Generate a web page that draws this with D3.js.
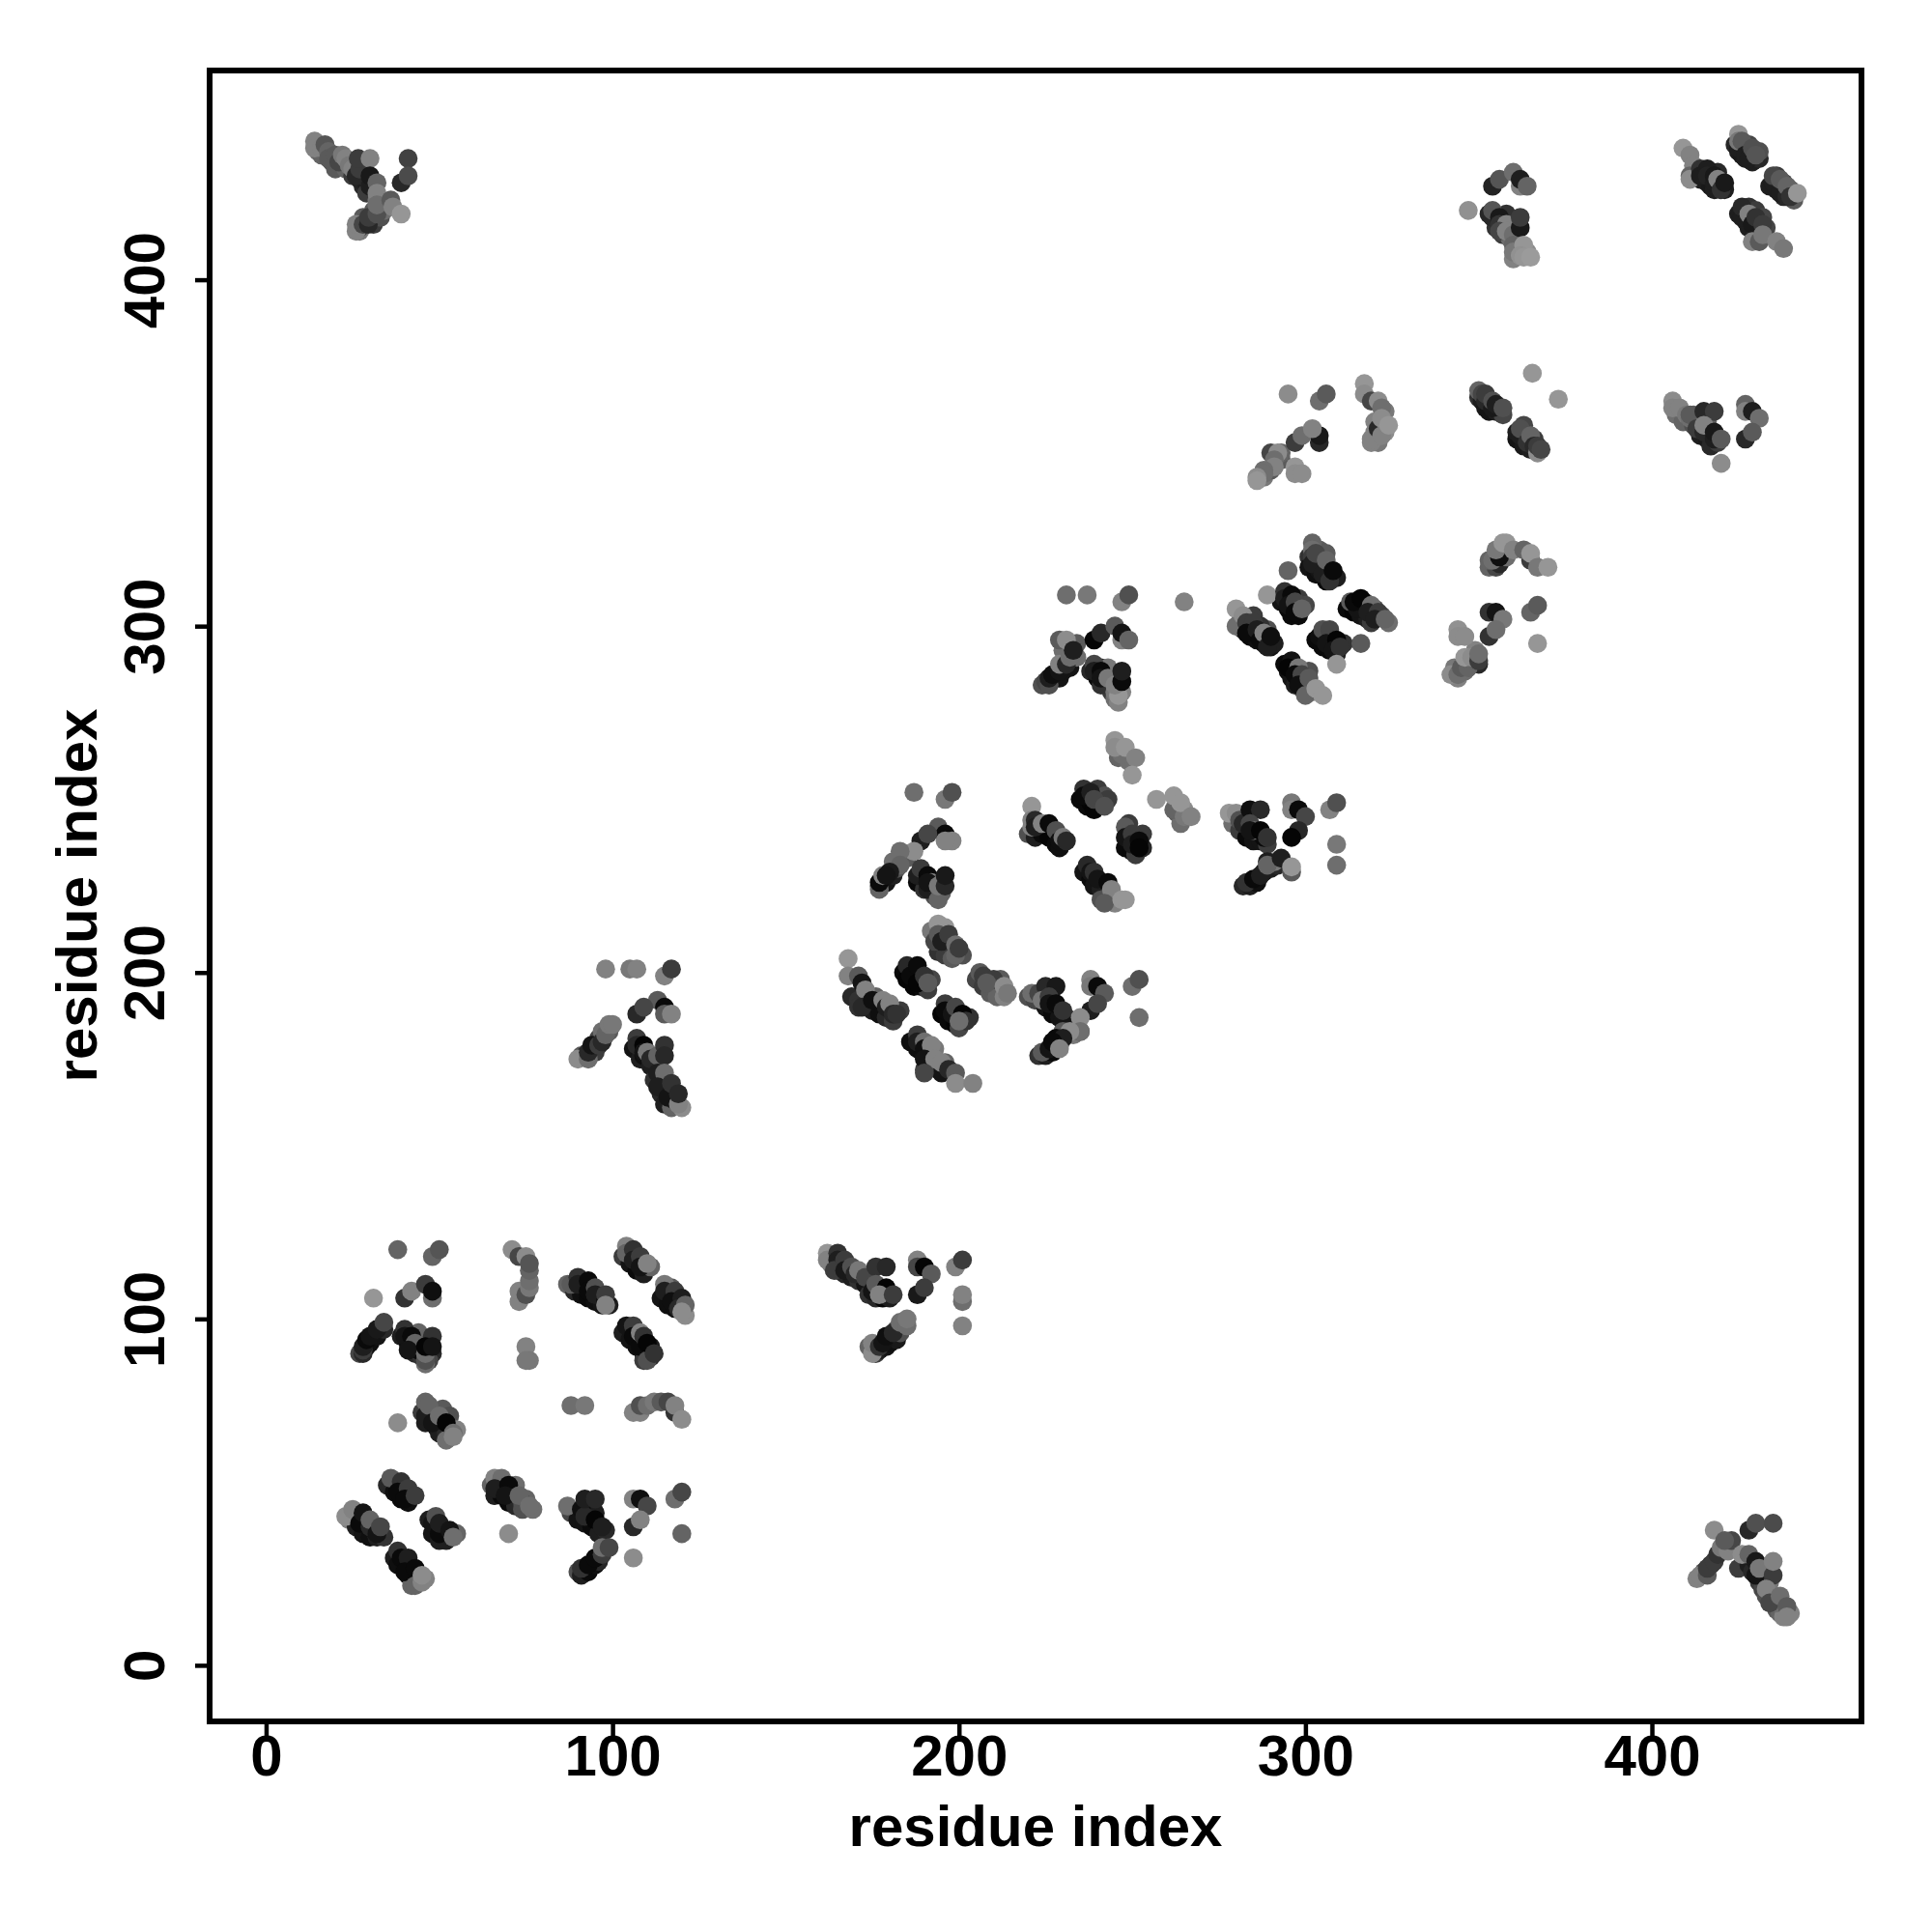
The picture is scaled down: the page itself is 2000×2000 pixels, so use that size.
<!DOCTYPE html>
<html><head><meta charset="utf-8"><script src="https://cdn.jsdelivr.net/npm/d3@7"></script>
<style>html,body{margin:0;background:#fff}svg{display:block}text{font-family:"Liberation Sans",Arial,sans-serif;font-weight:700;fill:#000}</style></head>
<body><svg id="c" width="2000" height="2000"></svg>
<script>
const xTicks=[0,100,200,300,400], yTicks=[0,100,200,300,400];
const xTitle="residue index", yTitle="residue index";
// each entry: residue i, residue j, grey shade
const underTop=[[15,437,110],[16,436,100],[19,434,80],[20,432,90],[23,432,100],[25,430,60],[28,427,40],[27,429,35],[29,428,30],[29,425,60],[27,414,120],[27,415,70],[30,417,45],[31,416,60],[33,418,80],[34,420,110],[32,423,120],[31,420,90],[28,418,90],[26,432,80],[28,430,50],[412,431,40],[413,430,30],[414,429,30],[416,428,30],[417,427,25],[418,426,30],[420,428,40],[417,431,50],[419,431,40],[421,426,30],[424,439,40],[425,437,30],[426,436,25],[427,435,30],[429,434,30],[431,435,40],[431,437,80],[428,439,70],[434,427,30],[436,426,30],[438,424,40],[436,430,60],[438,428,70],[440,426,80],[441,423,90],[425,419,30],[427,417,25],[428,415,30],[430,414,40],[428,421,50],[430,420,60],[432,418,70],[431,414,50],[433,415,70],[353,419,40],[355,415,50],[357,413,60],[359,415,70],[358,419,50],[359,412,110],[361,411,110],[360,406,130],[364,408,140],[363,408,120]];
const underMid=[[350,366,50],[351,365,30],[352,363,25],[353,362,20],[355,362,30],[357,361,70],[361,354,20],[361,356,30],[363,352,25],[365,351,30],[367,351,60],[363,358,70],[366,354,60],[407,361,110],[409,359,100],[412,358,80],[414,355,30],[416,354,25],[416,359,100],[412,361,90],[417,352,40],[419,353,60],[288,343,120],[290,345,90],[293,348,90],[293,350,100],[320,356,130],[323,362,120],[323,356,140],[320,359,130],[321,353,120],[301,320,50],[301,317,20],[303,315,15],[304,316,20],[306,313,10],[307,315,10],[304,322,90],[306,321,90],[309,314,30],[293,307,20],[295,305,10],[296,303,10],[298,303,10],[298,308,60],[300,306,70],[312,305,10],[314,304,5],[316,303,20],[318,302,30],[317,307,60],[320,305,80],[322,303,80],[319,301,60],[324,301,110],[303,296,10],[305,294,10],[307,293,10],[309,292,30],[306,298,60],[311,295,50],[294,289,10],[295,287,15],[296,285,20],[298,284,30],[297,283,30],[299,282,60],[301,283,80],[301,287,80],[302,281,130],[281,301,110],[282,299,60],[284,297,10],[286,296,15],[288,295,15],[290,294,20],[291,295,30],[289,299,80],[285,303,60],[287,300,50],[353,317,100],[355,317,70],[356,318,40],[358,320,110],[344,285,130],[343,288,120],[346,287,110],[348,289,100],[350,289,40],[349,293,130]];
const underCentre=[[224,283,80],[225,284,70],[228,285,60],[229,285,20],[230,287,20],[232,288,20],[231,291,90],[234,291,110],[230,293,110],[234,295,90],[238,287,40],[240,285,10],[241,288,40],[243,283,30],[244,281,60],[243,288,120],[245,279,110],[247,281,130],[235,250,10],[237,248,10],[238,249,5],[240,253,60],[242,251,80],[243,250,60],[220,240,80],[222,239,30],[224,240,10],[226,239,5],[228,237,10],[229,236,15],[248,236,10],[250,235,10],[251,234,60],[253,236,40],[249,243,60],[253,240,60],[236,229,20],[238,227,10],[239,225,20],[241,224,30],[243,222,60],[241,221,80],[245,220,130],[248,264,140],[246,262,100],[249,261,110],[263,246,90],[265,247,140],[264,243,110],[279,243,110],[281,241,60],[283,239,10],[285,238,20],[287,238,20],[289,237,60],[288,239,10],[282,225,40],[284,225,30],[286,226,15],[288,229,20],[290,230,30],[292,231,40],[291,232,120],[177,225,50],[179,226,20],[181,228,30],[182,230,80],[185,233,90],[181,232,110],[188,226,10],[190,224,50],[193,222,80],[195,223,100],[191,224,30],[169,193,40],[171,192,50],[174,190,20],[175,189,30],[177,188,15],[179,187,40],[181,186,60],[176,193,100],[183,189,60],[184,200,10],[185,198,5],[187,196,5],[189,196,10],[191,195,60],[192,198,70],[195,188,5],[197,186,10],[199,185,5],[201,186,30],[203,187,50],[200,184,70],[186,180,15],[188,178,15],[190,176,20],[192,173,30],[194,172,30],[193,178,120],[195,171,20],[196,174,100],[190,172,60],[194,206,50],[196,205,60],[198,204,90],[201,205,80],[192,212,120],[193,209,70],[205,198,70],[207,196,60],[209,194,90],[211,193,100],[213,193,130],[212,198,90],[220,193,80],[222,192,70],[225,190,20],[227,188,10],[229,187,20],[231,187,40],[230,186,20],[223,176,50],[225,176,30],[227,177,10],[229,179,15],[231,182,40],[233,182,120]];
const underLow=[[91,176,90],[92,176,40],[95,177,60],[96,181,70],[97,183,110],[99,183,90],[106,178,20],[108,175,30],[109,176,15],[111,173,30],[112,169,50],[114,165,40],[116,168,40],[115,162,30],[117,161,100],[118,163,40],[120,161,140],[163,116,120],[165,114,80],[167,113,40],[169,112,30],[171,111,50],[173,110,20],[174,107,50],[176,106,40],[178,106,5],[180,106,30],[174,92,100],[176,90,60],[177,91,30],[179,92,20],[180,93,15],[182,94,25],[182,97,100],[183,96,80],[27,90,70],[28,90,40],[29,92,20],[30,93,15],[32,95,20],[34,97,40],[39,95,30],[41,93,10],[42,92,15],[43,90,40],[45,89,50],[48,90,40],[44,91,10],[47,88,70],[44,96,100],[87,110,100],[89,108,40],[91,107,15],[93,106,10],[95,105,15],[97,104,20],[99,104,30],[103,118,60],[105,116,20],[107,114,10],[109,113,30],[111,115,100],[114,106,20],[116,104,15],[118,103,15],[120,103,80],[121,101,140],[117,109,90],[103,96,30],[105,94,20],[107,92,15],[109,90,20],[111,92,30],[109,88,60],[111,89,40],[45,73,60],[46,70,30],[47,72,20],[49,69,15],[50,67,30],[52,67,40],[51,74,90],[53,72,80],[55,68,130],[52,65,110],[24,42,130],[26,40,30],[28,38,20],[30,37,15],[32,37,30],[34,37,50],[35,52,40],[37,50,15],[39,48,10],[41,47,15],[47,42,30],[48,38,20],[50,36,30],[52,36,30],[55,38,100],[37,31,30],[38,29,15],[40,28,15],[41,26,10],[43,25,20],[42,23,100],[46,25,130],[65,52,100],[66,49,30],[68,49,10],[70,47,10],[72,46,40],[74,45,80],[72,52,110],[75,48,100],[77,45,110],[88,44,70],[90,42,20],[92,41,20],[94,40,10],[96,38,30],[95,44,30],[98,39,40],[90,27,80],[91,26,30],[93,27,10],[95,29,15],[96,30,40],[413,25,130],[415,27,80],[417,29,50],[425,28,60],[428,29,30],[429,27,40],[431,24,60],[432,22,70],[433,20,80],[435,18,120],[436,16,90],[437,15,100],[438,14,130],[440,15,130],[432,26,110],[434,24,120],[436,18,110]];
const topLeft=[[14,440,130],[14,438,130],[16,438,130],[17,439,85],[18,437,100],[18,435,90],[20,436,90],[21,434,70],[22,436,120],[23,435,130],[24,433,120],[25,432,130],[26,430,40],[27,432,60],[26.6,435,60],[30,435,130],[30,427,30],[30,430,25],[32,428,100],[32,425,130],[39,428,40],[41,435,65],[41,430,75],[26,414,130],[26,416,130],[28,416,70],[29.5,416,40],[29.6,418,60],[32,419,80],[32,421.6,110],[36,423,90],[36.6,421,130],[39,419,150]];
const topRightA=[[347,420,145],[354,427,35],[356,429,85],[360,431,110],[362,427,130],[362,429,30],[364,427,100],[354,418,40],[354,420,85],[356,418,25],[356,416,50],[358,416,130],[356,414,70],[358,414,130],[360,413,110],[362,415,25],[362,418,60],[360,410,100],[360,408,120],[363,410,150],[362,407,145],[363,406.5,150],[365,406.5,155]];
const topRightB=[[409,438,150],[411,436,130],[412,433,130],[411,430,100],[411,429,140],[414,432,50],[414,430,30],[416,432,30],[416,430,35],[418,428,30],[418,430,25],[419,429,130],[420,426,50],[421,428,25],[425,438,30],[425,442,150],[425,440,120],[426,440,90],[427,436,30],[428,435,30],[429,438,80],[430,436,85],[435,428,30],[435,430,70],[437,425,30],[437,429,90],[439,424,40],[439,427,100],[440,424,50],[442,425,150],[426,418,30],[426,421,40],[428,419,130],[429,416,25],[430,418,50],[429,411,130],[431,411,90],[432,416,60],[432,413,120],[436,411,130],[438,409,120]];
const midRightA=[[350,368,100],[351,367,70],[352,365,40],[352,367,60],[354,363,25],[354,365,80],[355,364,30],[357,363,80],[365.5,373,150],[373,365.5,150],[362,355,30],[362,357,80],[364,353,50],[365,355,100],[366,352,40],[367,350,140],[367,352,60],[368,351,70]];
const midRightB=[[406,365,140],[406,363,130],[408,363,130],[410,361,120],[411,360,110],[411,361,90],[415,362,40],[418,362,60],[413,357,60],[415,356,40],[415,358,130],[418,354,30],[418,356,25],[420,354,90],[427,364,100],[427,362,130],[429,362,30],[431,360,110],[427,354,40],[429,356,90],[420,347,140]];
const blockA=[[295,367,140],[304,365,110],[306,367,90],[317,370,150],[317,367,140],[319,365,70],[321,365,140],[322,363,110],[319,353,130],[319,354,130],[321,357,40],[322,355,130],[322,360,140],[324,358,150],[304,353,40],[304,355,25],[297,353,60],[299,355,110],[302,357,130],[290,350,70],[292,350,140],[291,348,110],[291,346,130],[288,345,110],[288,344,110],[286,343,140],[286,342,150],[297,346,150],[297,344,140],[299,344,140]];
const blockB=[[302,324,100],[302,322,110],[302,320,60],[302,318,30],[303,321,70],[305,315,30],[306,319,100],[307,313,50],[308,316,10],[295,316,100],[289,309,150],[294,310,50],[294,308,30],[296,309,10],[295,306,20],[297,307,70],[297,304,10],[299,305,100],[313,307,90],[315,305,20],[314,307,10],[316,308,5],[319,306,110],[318,304,30],[321,304,60],[320,302,30],[323,302,100],[316,295,90],[304,297,15],[305,299,80],[307,299,70],[306,295,20],[309,296,5],[308,293,20],[310,294,50],[309,289,150],[296,290,20],[295,288,5],[298,288,120],[297,286,10],[299,286,70],[298,283,15],[301,285,90],[300,280,100],[303,282,150],[305,280,150]];
const blockC=[[280,305,150],[280,300,110],[282,303,140],[283,301,60],[285,301,60],[283,298,10],[286,299,30],[287,296,10],[288,298,130],[289,294,30],[290,297,15]];
const blockD=[[353,319,100],[354,319,110],[356,320,15],[355,322,120],[357,324,150],[358,324,150],[360,322,130],[365,319,60],[363,322,100],[365,321,150],[367,317,120],[370,317,150],[353,304,50],[355,304,20],[357,302,120],[353,297,50],[355,299,110],[365,304,100],[367,306,90],[367,295,150],[344,299,145],[344,297,140],[346,297,140],[342,286,140],[344,286,110],[345,288,90],[347,288,100],[346,291,150],[348,291,140],[350,290,60],[350,292,110]];
const blockE=[[231,309,110],[237,309,120],[247,307,130],[249,309,80],[265,307,130],[229,296,90],[231,296,140],[226,283,80],[226,285,30],[227,286,15],[229,287,20],[229,289,130],[231,289,40],[232,291,110],[233,293,30],[239,296,5],[241,298,40],[245,300,90],[247,296,130],[247,298,20],[249,296,100],[239,289,70],[239,287,30],[241,287,10],[241,283,50],[241,285,20],[243,285,120],[246,278,130],[245,281,120],[246,280,150],[245,283,130],[247,284,10],[247,287,30]];
const blockF=[[247,263,110],[245,267,150],[245,265,140],[248,265,150],[251,262,130],[250,257,150],[257,250,150],[262,247,100],[262,251,150],[265,245,120],[264,249,150],[267,245,130],[236,253,50],[236,251,10],[238,252,30],[239,247,5],[239,250,70],[242,248,80],[221,248,150],[221,244,130],[221,242,130],[222,244,40],[222,242,30],[224,243,130],[226,243,10],[228,241,80],[229,238,15],[230,239,120],[231,238,40],[248,242,90],[248,239,20],[250,240,60],[250,237,30],[252,238,10],[252,236,5],[237,231,40],[238,229,20],[239,229,50],[240,227,20],[243,226,10],[244,224,130],[242,220,90],[247,221,150],[248,221,150]];
const blockG=[[278,246,150],[280,246,140],[281,244,80],[282,243,40],[284,247,15],[287,247,40],[284,243,70],[285,241,110],[284,241,20],[287,241,5],[289,239,50],[296,249,120],[296,247,130],[298,247,10],[300,245,70],[298,241,40],[296,239,5],[307,247,130],[309,249,80],[309,237,120],[309,231,110],[283,226,50],[285,227,10],[287,228,30],[289,232,30],[289,231,100],[293,233,30],[296,229,90],[296,230.5,150]];
const blockH=[[187,252,110],[196,250,120],[198,252,80],[194,242,90],[196,240,10],[198,238,130],[196,238,130],[189,238,30],[191,240,70],[187,235,140],[183,235,110],[183,231,100],[177,224,100],[177,226,10],[178,228,130],[180,229,25],[179,228,20],[188,228,30],[189,230,60],[191,228,10],[192,226,130],[191,226,20],[194,221,100],[194,225,120],[196,225,40],[196,228,25]];
const blockI=[[194,214,150],[196,213,150],[194,211,90],[195,209,30],[197,211,60],[199,208,110],[199,205,100],[200,207,60],[168,204,150],[168,199,130],[171,199,90],[172,197,20],[173,195,130],[171,190,50],[172,190,40],[175,192,15],[178,192,130],[179,190,30],[180,191,130],[181,188,40],[182,188,50],[185,202,40],[186,199,10],[188,202,10],[188,197,5],[190,199,50],[191,197,90],[206,200,90],[207,199,60],[210,198,60],[208,197,90],[213,196,140],[214,194,120],[196,191,60],[196,189,10],[198,188,20],[199,190,70],[201,188,5],[202,186,50],[200,186,110],[188,182,60],[188,180,30],[190,180,110],[190,178,15],[192,179,130],[190,175,20],[193,175,130],[195,174,130],[190,171,70],[197,172,40],[199,171,90],[199,168,140],[204,168,130]];
const blockJ=[[221,194,110],[223,194,70],[225,196,40],[228,196,25],[224,192,120],[226,193,60],[226,191,20],[228,191,10],[230,189,50],[238,198,130],[238,196,120],[240,196,10],[242,194,90],[238,189,30],[240,191,70],[250,196,110],[252,198,80],[252,187,110],[235,183,70],[235,187,140],[235,183,110],[230,183,90],[232,183,140],[228,181,10],[230,181,30],[224,177,90],[226,178,20],[227,180,10],[229,178,130]];
const blockK=[[98,201,130],[105,201,120],[107,201,130],[115,199,130],[117,201,60],[113,192,90],[115,190,10],[115,188,90],[117,188,130],[107,188,40],[109,190,70],[90,175,140],[93,175,110],[93,177,40],[94,179,20],[96,179,60],[97,180,40],[98,182,100],[99,185,120],[100,185,120],[107,181,60],[107,179,40],[109,179,5],[109,177,20],[110,177,120],[111,175,40],[113,176,100],[115,179,50],[115,176,40],[113,171,30],[115,171,110],[113,167,30],[116,164,20],[117,168,50],[119,162,130],[119,165,40]];
const blockL=[[162,119,150],[162,117,130],[165,119,50],[165,117,30],[164,114,60],[167,117,60],[167,114,25],[169,115,80],[170,113,40],[171,114,120],[173,112,70],[176,115,50],[179,115,40],[175,108,20],[176,110,90],[179,109,5],[177,107,130],[181,107,60],[188,117,130],[188,115,70],[190,115,5],[192,113,90],[188,107,25],[190,109,60],[199,115,130],[201,117,60],[201,105,110],[201,107,130],[201,98,130],[175,90,140],[175,93,130],[177,92,50],[178,93,20],[179,95,15],[181,96,40],[183,99,110],[185,98,110],[185,100,120]];
const blockM=[[38,120,100],[48,118,100],[50,120,85],[31,106,150],[40,106,50],[42,108,130],[46,110,60],[48,106,110],[48,108,15],[28,91,60],[28,92,30],[29,94,10],[30,95,20],[32,97,25],[34,99,70],[40,97,50],[40,95,20],[42,95,10],[43,93,100],[41,91,20],[46,87,110],[46,88,80],[46,90,110],[48,95,50],[46,92,5],[48,92,20]];
const blockN=[[71,120,140],[73,118,70],[75,118,140],[73,105,130],[73,108,130],[75,107,80],[76,109,120],[76,111,110],[76,114,100],[76,116,85],[75,92,130],[76,88,120],[75,88,120],[88,110,90],[90,112,50],[90,110,30],[93,111,10],[93,108,10],[95,109,80],[95,107,30],[98,105,10],[98,107,60],[98,104,130],[104,121,130],[104,119,100],[106,120,50],[106,117,30],[108,118,60],[108,115,20],[110,116,130],[115,110,120],[115,108,30],[118,108,60],[117,105,15],[120,106,30],[119,103,40],[121,104,100],[120,102,140],[104,98,20],[106,98,60],[106,95,10],[108,92,10],[108,96,130],[109,95,50],[110,88,80],[110,93,5],[112,90,50]];
const blockO=[[38,70,140],[46,76,100],[46,72,30],[47,75,100],[48,70,20],[50,72,110],[52,70,5],[54,67,110],[54,66,130],[88,75,110],[92,75,120],[106,73,130],[108,73,130],[108,75,80],[110,75,110],[112,76,120],[114,76,90],[116,76,70],[118,73,50],[118,75,130],[120,71,140]];
const blockP=[[23,43,140],[25,45,130],[27,41,10],[28,44,20],[30,40,40],[30,42,100],[32,38,20],[33,40,70],[36,54,90],[39,53,50],[38,50,10],[41,51,60],[40,48,10],[43,49,60],[48,41,20],[49,43,80],[50,38,10],[50,41,30],[53,39,20],[54,37,110],[38,33,50],[39,31,10],[41,31,30],[40,27,10],[43,28,10],[43,23,100],[45,24,130],[45,26,140]];
const blockQ=[[66,54,130],[68,54,110],[66,51,30],[70,52,10],[69,49,20],[74,47,80],[73,49,100],[76,46,110],[70,38,140],[87,46,110],[91,45,15],[92,43,40],[92,48,30],[95,48,40],[95,42,5],[97,40,30],[106,48,130],[108,48,15],[110,46,70],[106,40,40],[108,42,130],[118,48,110],[120,50,70],[120,38,100],[106,31,140],[91,28,50],[93,29,10],[95,31,10],[97,32,60],[97,34,110],[99,34,70]];
const bottomRight=[[414,26,130],[416,26,90],[416,28,60],[418,30,60],[419,32,50],[420,34,120],[418,39,140],[422,33,130],[423,36,70],[421,36,90],[428,39,40],[430,41,80],[435,41,75],[426,32,140],[428,32,100],[430,26,20],[430,30,25],[431,28,120],[435,26,60],[435,30,130],[433,22,130],[434,18,70],[437,20,110],[439,17,90],[439,14,130]];
const allBlocks=[underTop,underMid,underCentre,underLow,topLeft,topRightA,topRightB,midRightA,midRightB,blockA,blockB,blockC,blockD,blockE,blockF,blockG,blockH,blockI,blockJ,blockK,blockL,blockM,blockN,blockO,blockP,blockQ,bottomRight];

const svg=d3.select("#c");
const L=217,R=1927,T=73,B=1782;
const x=d3.scaleLinear().domain([-16.3,460.5]).range([L,R]);
const y=d3.scaleLinear().domain([-16.2,460.4]).range([B,T]);
svg.append("g").selectAll("circle").data(allBlocks.flat()).join("circle")
  .attr("cx",d=>x(d[0])).attr("cy",d=>y(d[1])).attr("r",9.8)
  .attr("fill",d=>d3.rgb(d[2],d[2],d[2]));
svg.append("rect").attr("x",L).attr("y",T).attr("width",R-L).attr("height",B-T).attr("fill","none").attr("stroke","#000").attr("stroke-width",6);
const ax=svg.append("g").attr("transform",`translate(0,${B})`).call(d3.axisBottom(x).tickValues(xTicks).tickSize(15).tickPadding(0).tickFormat(d3.format("d")));
const ay=svg.append("g").attr("transform",`translate(${L},0)`).call(d3.axisLeft(y).tickValues(yTicks).tickSize(15).tickPadding(0).tickFormat(d3.format("d")));
[ax,ay].forEach(a=>{a.select(".domain").remove();a.selectAll("line").attr("stroke","#000").attr("stroke-width",4.5);a.selectAll("text").style("font-size","60px").style("font-family",'"Liberation Sans"').style("font-weight","700");});
ax.selectAll("text").attr("y",13).attr("dy","0.72em");
ay.selectAll("text").attr("text-anchor","middle").attr("dy",0).attr("x",0).attr("y",0)
  .attr("transform","translate(-47,0) rotate(-90)");
svg.append("text").attr("x",1072).attr("y",1911).attr("text-anchor","middle").style("font-size","60px").text(xTitle);
svg.append("text").attr("transform","translate(100,927) rotate(-90)").attr("text-anchor","middle").style("font-size","60px").text(yTitle);
</script></body></html>
